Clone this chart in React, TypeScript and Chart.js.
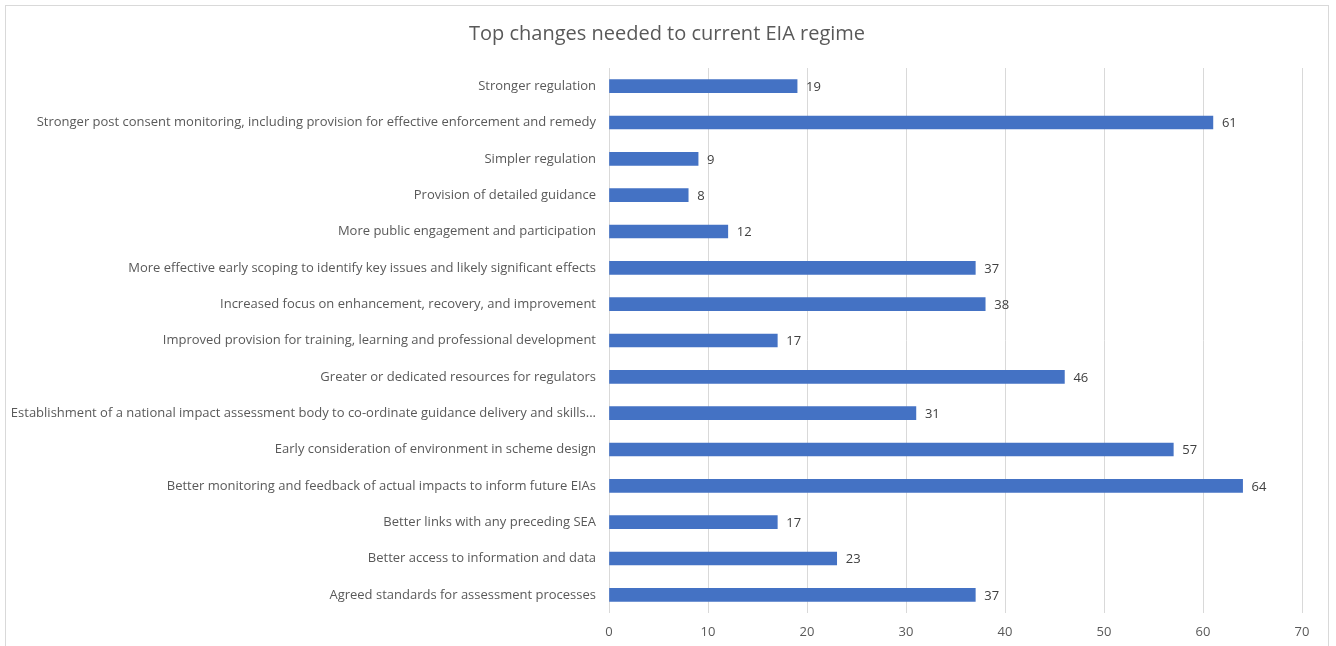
import React, { useEffect, useRef } from "react";
import { Chart, registerables } from "chart.js";

Chart.register(...registerables);

const chartTitle = "Top changes needed to current EIA regime";

const categories: string[] = [
  "Stronger regulation",
  "Stronger post consent monitoring, including provision for effective enforcement and remedy",
  "Simpler regulation",
  "Provision of detailed guidance",
  "More public engagement and participation",
  "More effective early scoping to identify key issues and likely significant effects",
  "Increased focus on enhancement, recovery, and improvement",
  "Improved provision for training, learning and professional development",
  "Greater or dedicated resources for regulators",
  "Establishment of a national impact assessment body to co-ordinate guidance delivery and skills...",
  "Early consideration of environment in scheme design",
  "Better monitoring and feedback of actual impacts to inform future EIAs",
  "Better links with any preceding SEA",
  "Better access to information and data",
  "Agreed standards for assessment processes",
];

const responses: number[] = [19, 61, 9, 8, 12, 37, 38, 17, 46, 31, 57, 64, 17, 23, 37];

const xTicks = { min: 0, max: 70, step: 10 };

const FONT = "'Open Sans', sans-serif";
const TEXT = "#595959";

export default function App() {
  const ref = useRef<HTMLCanvasElement | null>(null);

  useEffect(() => {
    document.body.style.margin = "0";
    const canvas = ref.current;
    if (!canvas) return;

    const framePlugin = {
      id: "frame",
      beforeDraw(chart: any) {
        const ctx = chart.ctx;
        ctx.save();
        ctx.fillStyle = "#ffffff";
        ctx.fillRect(0, 0, chart.width, chart.height);
        ctx.strokeStyle = "#d9d9d9";
        ctx.lineWidth = 1;
        ctx.strokeRect(5.5, 5.5, chart.width - 13, chart.height + 20);
        ctx.fillStyle = TEXT;
        ctx.font = `20px ${FONT}`;
        ctx.textAlign = "center";
        ctx.textBaseline = "middle";
        ctx.fillText(chartTitle, 667, 34);
        ctx.restore();
      },
    };

    const valueLabels = {
      id: "valueLabels",
      afterDatasetsDraw(chart: any) {
        const ctx = chart.ctx;
        const meta = chart.getDatasetMeta(0);
        ctx.save();
        ctx.fillStyle = "#404040";
        ctx.font = `13px ${FONT}`;
        ctx.textAlign = "left";
        ctx.textBaseline = "middle";
        meta.data.forEach((bar: any, i: number) => {
          ctx.fillText(String(responses[i]), bar.x + 9, bar.y + 1);
        });
        ctx.restore();
      },
    };

    const chart = new Chart(canvas, {
      type: "bar",
      data: {
        labels: categories,
        datasets: [
          {
            data: responses,
            backgroundColor: "#4472C4",
            barThickness: 13,
          },
        ],
      },
      options: {
        indexAxis: "y",
        responsive: false,
        animation: false,
        layout: { padding: { top: 68, right: 34, left: 0, bottom: 0 } },
        plugins: {
          legend: { display: false },
          title: { display: false },
          tooltip: { enabled: false },
        },
        scales: {
          x: {
            min: xTicks.min,
            max: xTicks.max,
            ticks: {
              stepSize: xTicks.step,
              color: TEXT,
              font: { family: FONT, size: 13 },
              padding: 11,
            },
            grid: { color: "#d9d9d9", drawTicks: false },
            border: { display: false },
            afterFit(scale: any) {
              scale.height = 33;
            },
          },
          y: {
            ticks: {
              color: TEXT,
              font: { family: FONT, size: 13 },
              padding: 13,
              autoSkip: false,
            },
            grid: { display: false, drawTicks: false },
            border: { display: false },
            afterFit(scale: any) {
              scale.width = 609;
            },
          },
        },
      },
      plugins: [framePlugin, valueLabels],
    });

    return () => chart.destroy();
  }, []);

  return <canvas ref={ref} width={1336} height={646} style={{ display: "block" }} />;
}
